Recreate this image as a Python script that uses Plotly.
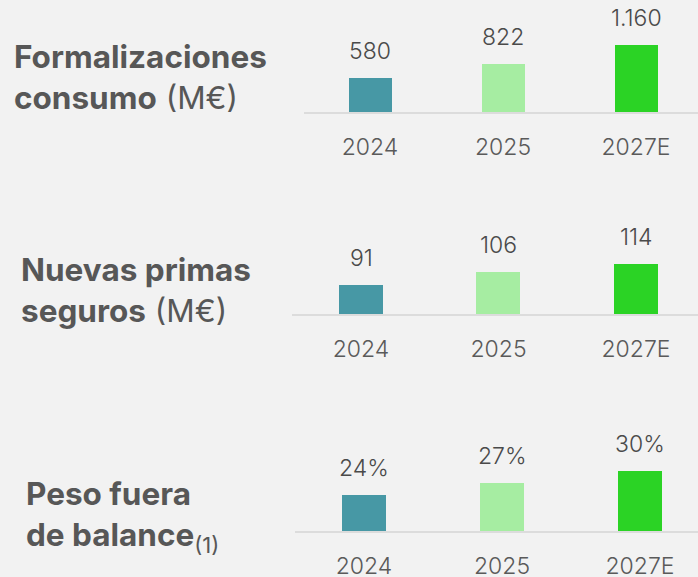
import plotly.graph_objects as go

W, H = 698, 577

years = ["2024", "2025", "2027E"]
consumo = [580, 822, 1160]
consumo_labels = ["580", "822", "1.160"]
primas = [91, 106, 114]
primas_labels = ["91", "106", "114"]
peso = [24, 27, 30]
peso_labels = ["24%", "27%", "30%"]
bar_colors = ["#4798a5", "#a6eda2", "#2bd325"]

titles = [
    "<b>Formalizaciones</b><br><b>consumo</b> (M€)",
    "<b>Nuevas primas</b><br><b>seguros</b> (M€)",
    "<b>Peso fuera</b><br><b>de balance</b><sub>(1)</sub>",
]

# layout geometry (pixels)
panels = [
    dict(vals=consumo, labels=consumo_labels, x0=303.5, step=133, base=112, top=0,
         yr=[0, 1929], bw=0.316, tx=12, ty=77),
    dict(vals=primas, labels=primas_labels, x0=292.25, step=137.5, base=314, top=200,
         yr=[59.2, 184.9], bw=0.32, tx=19, ty=290),
    dict(vals=peso, labels=peso_labels, x0=295, step=138, base=531, top=420,
         yr=[15, 42.75], bw=0.319, tx=24, ty=516),
]

fig = go.Figure()
annotations = []
FONT = "Inter"
num_color = "#4a4a4a"
year_color = "#5a5a5a"

for k, p in enumerate(panels, start=1):
    xa = "x" if k == 1 else f"x{k}"
    ya = "y" if k == 1 else f"y{k}"
    idx = list(range(len(years)))
    fig.add_trace(go.Bar(
        x=idx, y=p["vals"], marker=dict(color=bar_colors, line=dict(width=0)),
        width=p["bw"], xaxis=xa, yaxis=ya, showlegend=False, hoverinfo="skip",
    ))
    xend = (W - p["x0"]) / p["step"] - 0.5
    xkey = "xaxis" if k == 1 else f"xaxis{k}"
    ykey = "yaxis" if k == 1 else f"yaxis{k}"
    fig.update_layout(**{
        xkey: dict(domain=[p["x0"] / W, 1], range=[-0.5, xend], type="linear",
                   tickmode="array", tickvals=idx, ticktext=years,
                   anchor=ya, showline=True, linecolor="#dcdcdc", linewidth=2,
                   showgrid=False, zeroline=False, ticks="", ticklabelstandoff=13,
                   tickfont=dict(family=FONT, size=23, color=year_color, weight=300),
                   fixedrange=True),
        ykey: dict(domain=[1 - p["base"] / H, 1 - p["top"] / H], range=p["yr"],
                   anchor=xa, visible=False, showgrid=False, zeroline=False,
                   fixedrange=True),
    })
    for i, v, lab in zip(idx, p["vals"], p["labels"]):
        annotations.append(dict(
            x=i, y=v, xref=xa, yref=ya, text=lab, showarrow=False,
            yshift=27, font=dict(family=FONT, size=23, color=num_color, weight=300),
        ))
    annotations.append(dict(
        x=p["tx"] / W, y=1 - p["ty"] / H, xref="paper", yref="paper",
        xanchor="left", yanchor="middle", align="left", showarrow=False,
        text=titles[k - 1], font=dict(family=FONT, size=31.5, color="#575757"),
    ))

fig.update_layout(
    width=W, height=H, margin=dict(l=0, r=0, t=0, b=0, autoexpand=False),
    paper_bgcolor="#f2f2f2", plot_bgcolor="rgba(0,0,0,0)",
    annotations=annotations, bargap=0,
)

fig.write_html("out.html", config={"displayModeBar": False},
               post_script="document.body.style.margin='0';document.body.style.background='#f2f2f2';")
